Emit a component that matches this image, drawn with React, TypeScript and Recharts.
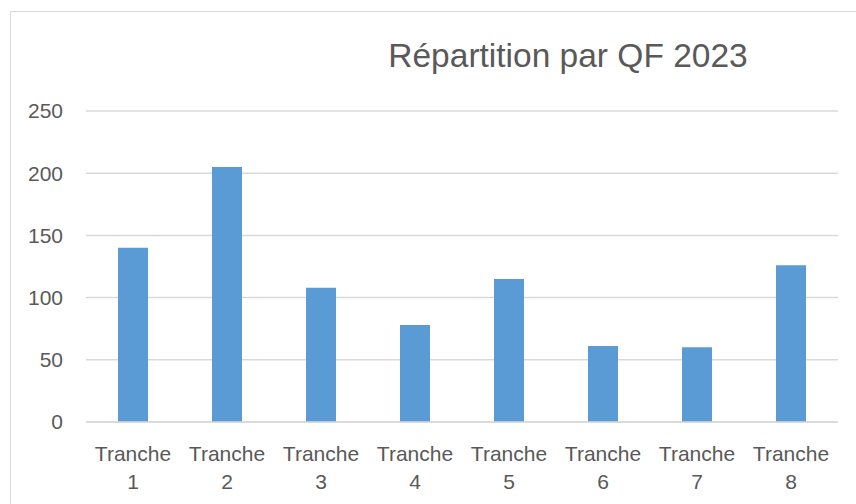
import { BarChart, Bar, XAxis, YAxis, CartesianGrid } from "recharts";

const categories = ["Tranche 1", "Tranche 2", "Tranche 3", "Tranche 4", "Tranche 5", "Tranche 6", "Tranche 7", "Tranche 8"];
const values = [140, 205, 108, 78, 115, 61, 60, 126];
const yTicks = [0, 50, 100, 150, 200, 250];

const font = "'Liberation Sans', Arial, sans-serif";
const grey = "#595959";

function TrancheTick(props: any) {
  const { x, y, payload } = props;
  const [word, num] = String(payload.value).split(" ");
  return (
    <g>
      <text x={x} y={y + 39} textAnchor="middle" fill={grey} fontSize={21} fontFamily={font}>
        {word}
      </text>
      <text x={x} y={y + 67} textAnchor="middle" fill={grey} fontSize={21} fontFamily={font}>
        {num}
      </text>
    </g>
  );
}

export default function App() {
  const data = categories.map((name, i) => ({ name, value: values[i] }));

  return (
    <div style={{ position: "absolute", left: 0, top: 0, width: 856, height: 504, overflow: "hidden", background: "#fff" }}>
      <div
        style={{
          position: "absolute",
          left: 10,
          top: 11,
          width: 900,
          height: 600,
          border: "1px solid #d9d9d9",
        }}
      />
      <div
        style={{
          position: "absolute",
          left: 368,
          width: 400,
          top: 36,
          textAlign: "center",
          fontFamily: font,
          fontSize: 33.5,
          color: grey,
          lineHeight: "40px",
        }}
      >
        Répartition par QF 2023
      </div>
      <div style={{ position: "absolute", left: 0, top: 0 }}>
        <BarChart width={856} height={504} data={data} margin={{ top: 111, right: 18, bottom: 0, left: 0 }}>
          <CartesianGrid vertical={false} stroke="#d9d9d9" strokeWidth={1.5} />
          <XAxis
            dataKey="name"
            tick={<TrancheTick />}
            tickLine={false}
            tickSize={0}
            tickMargin={0}
            axisLine={{ stroke: "#d9d9d9", strokeWidth: 1.5 }}
            interval={0}
            height={82}
          />
          <YAxis
            width={86}
            domain={[0, 250]}
            ticks={yTicks}
            tickLine={false}
            tickSize={0}
            tickMargin={23}
            axisLine={false}
            tick={{ fill: grey, fontSize: 21, fontFamily: font }}
          />
          <Bar dataKey="value" fill="#5b9bd5" barSize={30} isAnimationActive={false} />
        </BarChart>
      </div>
    </div>
  );
}
